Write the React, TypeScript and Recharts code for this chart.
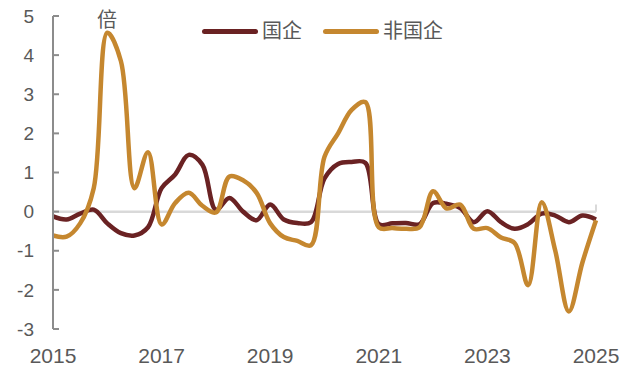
import React from "react";
import { LineChart, Line, XAxis, YAxis, ReferenceLine, Legend } from "recharts";

const quarters = [
  "2015Q1", "2015Q2", "2015Q3", "2015Q4",
  "2016Q1", "2016Q2", "2016Q3", "2016Q4",
  "2017Q1", "2017Q2", "2017Q3", "2017Q4",
  "2018Q1", "2018Q2", "2018Q3", "2018Q4",
  "2019Q1", "2019Q2", "2019Q3", "2019Q4",
  "2020Q1", "2020Q2", "2020Q3", "2020Q4",
  "2021Q1", "2021Q2", "2021Q3", "2021Q4",
  "2022Q1", "2022Q2", "2022Q3", "2022Q4",
  "2023Q1", "2023Q2", "2023Q3", "2023Q4",
  "2024Q1", "2024Q2", "2024Q3", "2024Q4",
  "2025Q1",
];

const soe = [
  -0.12, -0.2, -0.05, 0.05, -0.3, -0.55, -0.61, -0.4, 0.6, 0.95, 1.45, 1.2,
  0.05, 0.35, 0.0, -0.22, 0.18, -0.2, -0.29, -0.27, 0.85, 1.22, 1.27, 1.25,
  -0.32, -0.3, -0.29, -0.32, 0.22, 0.2, 0.09, -0.27, 0.01, -0.27, -0.44, -0.32,
  -0.05, -0.1, -0.27, -0.1, -0.2,
];

const nonSoe = [
  -0.61, -0.64, -0.3, 0.6, 4.57, 3.85, 0.6, 1.52, -0.33, 0.22, 0.48, 0.15,
  -0.02, 0.9, 0.8, 0.48, -0.3, -0.65, -0.75, -0.86, 1.4, 2.0, 2.6, 2.8,
  -0.4, -0.42, -0.44, -0.4, 0.52, 0.08, 0.18, -0.44, -0.42, -0.66, -0.8, -1.88,
  0.24, -1.0, -2.55, -1.3, -0.22,
];

const yTicks = [-3, -2, -1, 0, 1, 2, 3, 4, 5];
const seriesNames = ["国企", "非国企"];
const unitLabel = "倍";

const data = quarters.map((q, i) => ({ q, soe: soe[i], nonSoe: nonSoe[i] }));

const BROWN = "#6A2223";
const GOLD = "#C5872F";
const TEXT = "#595959";
const FONT = '"Liberation Sans", Arial, "Noto Sans CJK SC", sans-serif';

// Centripetal Catmull-Rom smooth line (alpha = 0.5)
function smoothCurve(context: any) {
  let pts: [number, number][] = [];
  const alpha = 0.5;
  const dist = (a: [number, number], b: [number, number]) =>
    Math.hypot(a[0] - b[0], a[1] - b[1]);
  return {
    areaStart() {},
    areaEnd() {},
    lineStart() {
      pts = [];
    },
    lineEnd() {
      const n = pts.length;
      if (!n) return;
      context.moveTo(pts[0][0], pts[0][1]);
      if (n === 2) {
        context.lineTo(pts[1][0], pts[1][1]);
        return;
      }
      for (let i = 0; i < n - 1; i++) {
        const p1 = pts[i];
        const p2 = pts[i + 1];
        const p0 = i > 0 ? pts[i - 1] : null;
        const p3 = i + 2 < n ? pts[i + 2] : null;
        const l12 = dist(p1, p2);
        const l12a = Math.pow(l12, alpha);
        const l12_2a = Math.pow(l12, 2 * alpha);
        let c1x = p1[0];
        let c1y = p1[1];
        let c2x = p2[0];
        let c2y = p2[1];
        if (p0) {
          const l01 = dist(p0, p1);
          const l01a = Math.pow(l01, alpha);
          const l01_2a = Math.pow(l01, 2 * alpha);
          if (l01a > 1e-9) {
            const a = 2 * l01_2a + 3 * l01a * l12a + l12_2a;
            const m = 3 * l01a * (l01a + l12a);
            c1x = (p1[0] * a - p0[0] * l12_2a + p2[0] * l01_2a) / m;
            c1y = (p1[1] * a - p0[1] * l12_2a + p2[1] * l01_2a) / m;
          }
        }
        if (p3) {
          const l23 = dist(p2, p3);
          const l23a = Math.pow(l23, alpha);
          const l23_2a = Math.pow(l23, 2 * alpha);
          if (l23a > 1e-9) {
            const b = 2 * l23_2a + 3 * l23a * l12a + l12_2a;
            const m = 3 * l23a * (l23a + l12a);
            c2x = (p2[0] * b + p1[0] * l23_2a - p3[0] * l12_2a) / m;
            c2y = (p2[1] * b + p1[1] * l23_2a - p3[1] * l12_2a) / m;
          }
        }
        context.bezierCurveTo(c1x, c1y, c2x, c2y, p2[0], p2[1]);
      }
    },
    point(x: number, y: number) {
      pts.push([+x, +y]);
    },
  };
}

const LegendContent = (props: any) => {
  const { payload = [] } = props;
  return (
    <div style={{ display: "flex", alignItems: "center", fontFamily: FONT }}>
      {payload.map((p: any, i: number) => (
        <div
          key={i}
          style={{ display: "flex", alignItems: "center", marginRight: 21 }}
        >
          <div
            style={{
              width: 56,
              height: 5,
              borderRadius: 3,
              background: p.color,
              marginRight: 4,
            }}
          />
          <span style={{ fontSize: 20, color: TEXT, lineHeight: "24px" }}>
            {p.value}
          </span>
        </div>
      ))}
    </div>
  );
};

export default function App() {
  return (
    <div style={{ position: "relative", width: 636, height: 376, background: "#fff" }}>
      <style>{`body{margin:0;}`}</style>
      <LineChart
        width={636}
        height={376}
        data={data}
        margin={{ top: 16, right: 40, bottom: 17, left: 0 }}
      >
        <XAxis
          dataKey="q"
          interval={7}
          tickFormatter={(v: string) => v.slice(0, 4)}
          axisLine={false}
          tickLine={false}
          tickSize={0}
          tickMargin={19}
          height={30}
          tick={{ fill: TEXT, fontSize: 21, fontFamily: FONT }}
        />
        <YAxis
          domain={[-3, 5]}
          ticks={yTicks}
          interval={0}
          width={53}
          axisLine={{ stroke: "#8C8C8C", strokeWidth: 2 }}
          tickLine={{ stroke: "#8C8C8C", strokeWidth: 2 }}
          tickSize={-6}
          tickMargin={25}
          tick={{ fill: TEXT, fontSize: 19, fontFamily: FONT }}
        />
        <ReferenceLine y={0} stroke="#D9D9D9" strokeWidth={2.5} />
        <ReferenceLine
          segment={[
            { x: "2025Q1", y: 0 },
            { x: "2025Q1", y: 0.18 },
          ]}
          stroke="#D9D9D9"
          strokeWidth={2}
        />
        <Legend
          layout="horizontal"
          verticalAlign="middle"
          align="center"
          content={<LegendContent />}
          wrapperStyle={{ position: "absolute", left: 202, top: 19, width: 300 }}
        />
        <Line
          type={smoothCurve as any}
          dataKey="soe"
          name={seriesNames[0]}
          stroke={BROWN}
          strokeWidth={4.5}
          dot={false}
          activeDot={false}
          isAnimationActive={false}
        />
        <Line
          type={smoothCurve as any}
          dataKey="nonSoe"
          name={seriesNames[1]}
          stroke={GOLD}
          strokeWidth={4.5}
          dot={false}
          activeDot={false}
          isAnimationActive={false}
        />
      </LineChart>
      <div
        style={{
          position: "absolute",
          left: 97,
          top: 8,
          fontSize: 20,
          color: TEXT,
          fontFamily: FONT,
          lineHeight: "24px",
        }}
      >
        {unitLabel}
      </div>
    </div>
  );
}
